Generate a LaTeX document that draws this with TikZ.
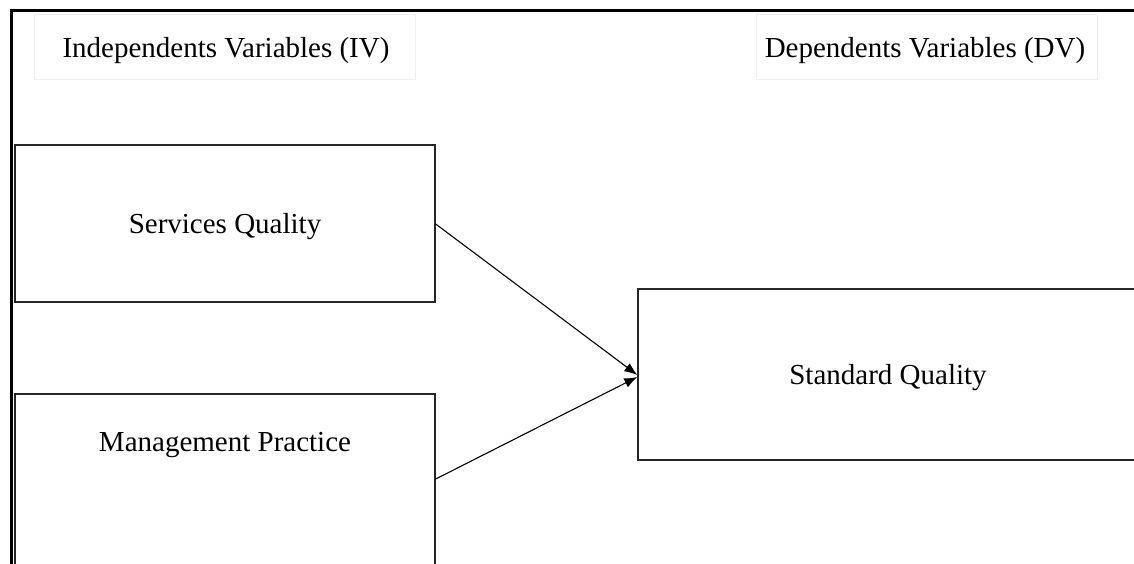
\documentclass[tikz,border=0pt]{standalone}
\usepackage{fontspec}
\setmainfont{Liberation Serif}
\usetikzlibrary{arrows.meta}
\begin{document}
\begin{tikzpicture}[x=1pt,y=-1pt,
  every node/.style={font=\fontsize{29}{34}\selectfont, text=black},
  varbox/.style={draw=black!85, line width=1.4pt, rectangle, inner sep=0pt},
  titlebox/.style={draw={rgb,255:red,236;green,240;blue,246}, line width=0.8pt, rectangle, inner sep=0pt},
  link/.style={line width=1.1pt, -{Latex[length=13pt,width=10pt]}}]
\useasboundingbox (0,0) rectangle (1134,564);
\clip (0,0) rectangle (1134,564);
% outer frame
\draw[line width=3pt] (11,600) -- (11,11) -- (1140,11);
% titles
\node[titlebox, minimum width=381pt, minimum height=65pt] (ivt) at (224.5,46.5) {};
\node (ivtext) at (226,51) {Independents Variables (IV)};
\node[titlebox, minimum width=341pt, minimum height=65pt] (dvt) at (926.5,46.5) {};
\node (dvtext) at (925,51) {Dependents Variables (DV)};
% variable boxes
\node[varbox, minimum width=420pt, minimum height=157pt] (sq) at (225,223.5) {};
\node (sqtext) at (225,227) {Services Quality};
\node[varbox, minimum width=420pt, minimum height=220pt] (mp) at (225,504) {};
\node (mptext) at (225,445) {Management Practice};
\node[varbox, minimum width=520pt, minimum height=171pt] (std) at (898,374.5) {};
\node (stdtext) at (888,378) {Standard Quality};
% connectors
\coordinate (sqout) at (sq.east |- 0,224);
\coordinate (mpout) at (mp.east |- 0,479);
\coordinate (stdin1) at (std.west |- 0,375);
\coordinate (stdin2) at (std.west |- 0,377);
\draw[link] (sqout) -- (stdin1);
\draw[link] (mpout) -- (stdin2);
\end{tikzpicture}
\end{document}
